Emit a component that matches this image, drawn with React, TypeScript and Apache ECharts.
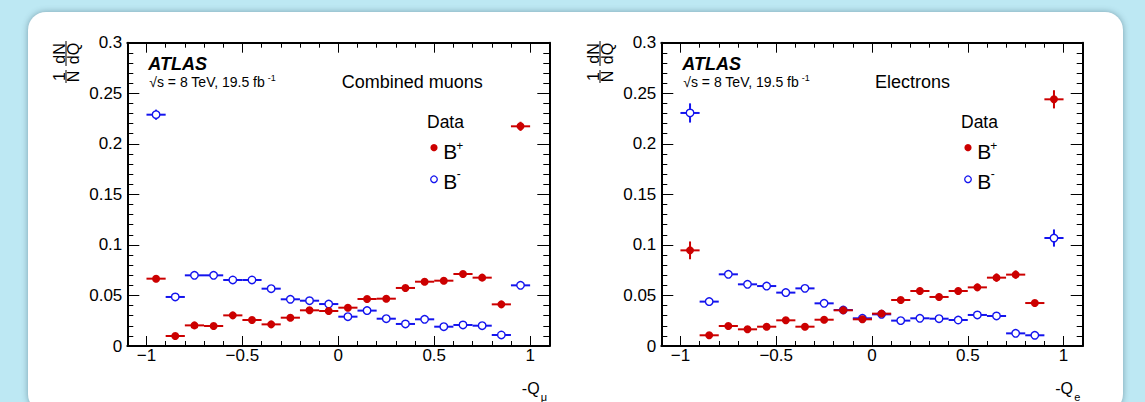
import React, { useEffect, useRef } from 'react';
import * as echarts from 'echarts';

const binCenters = [-0.95, -0.85, -0.75, -0.65, -0.55, -0.45, -0.35, -0.25, -0.15, -0.05, 0.05, 0.15, 0.25, 0.35, 0.45, 0.55, 0.65, 0.75, 0.85, 0.95];
const halfBin = 0.05;

// Combined muons
const muPlus = [0.0666, 0.0099, 0.0204, 0.0198, 0.0303, 0.0257, 0.0214, 0.028, 0.0353, 0.0346, 0.0379, 0.0465, 0.0468, 0.0574, 0.0636, 0.0646, 0.0712, 0.0676, 0.0412, 0.2173];
const muPlusErr = [0.003, 0.0015, 0.002, 0.002, 0.002, 0.002, 0.002, 0.002, 0.002, 0.002, 0.002, 0.002, 0.002, 0.002, 0.002, 0.002, 0.002, 0.002, 0.002, 0.0045];
const muMinus = [0.2288, 0.0485, 0.0699, 0.0699, 0.0653, 0.0653, 0.0567, 0.0462, 0.0448, 0.0415, 0.029, 0.035, 0.027, 0.0218, 0.0264, 0.0191, 0.0208, 0.0201, 0.0109, 0.06];
const muMinusErr = [0.005, 0.002, 0.002, 0.002, 0.002, 0.002, 0.002, 0.002, 0.002, 0.002, 0.002, 0.002, 0.002, 0.002, 0.002, 0.002, 0.002, 0.002, 0.0015, 0.003];

// Electrons
const elPlus = [0.0946, 0.0106, 0.0198, 0.0165, 0.0191, 0.0254, 0.0191, 0.026, 0.0353, 0.0264, 0.032, 0.0455, 0.0544, 0.0485, 0.0544, 0.058, 0.0676, 0.0706, 0.0425, 0.244];
const elPlusErr = [0.0088, 0.002, 0.003, 0.003, 0.003, 0.003, 0.003, 0.003, 0.003, 0.003, 0.003, 0.003, 0.0035, 0.0035, 0.0035, 0.0035, 0.004, 0.004, 0.003, 0.009];
const elMinus = [0.2305, 0.0439, 0.0709, 0.061, 0.0593, 0.0528, 0.057, 0.0422, 0.0356, 0.0274, 0.0313, 0.0251, 0.0274, 0.027, 0.0257, 0.0307, 0.0297, 0.0125, 0.0106, 0.1068];
const elMinusErr = [0.0095, 0.002, 0.003, 0.003, 0.003, 0.003, 0.003, 0.003, 0.003, 0.003, 0.003, 0.003, 0.003, 0.003, 0.003, 0.003, 0.003, 0.002, 0.002, 0.0085];

const xMajorTicks = [-1, -0.5, 0, 0.5, 1];
const xMinorTicks = [-1, -0.9, -0.8, -0.7, -0.6, -0.5, -0.4, -0.3, -0.2, -0.1, 0, 0.1, 0.2, 0.3, 0.4, 0.5, 0.6, 0.7, 0.8, 0.9, 1];

const panelLabels = ['Combined muons', 'Electrons'];
const xTitleSubs = ['μ', 'e'];

const FONT = '"Liberation Sans", Arial, Helvetica, sans-serif';
const RED = '#cc0000';
const BLUE = '#1414ee';

const GRID_TOP = 42.7;
const GRID_H = 303.3;
const GRID_LEFTS = [127.3, 661.3];
const GRID_WIDTHS = [422, 421.4];

function fmtX(v: number) {
  const r = Math.round(v * 10) / 10;
  if (r === 0) return '0';
  return (r < 0 ? '\u2212' : '') + String(Math.abs(r));
}
function fmtY(v: number) {
  const r = Math.round(v * 1000) / 1000;
  return String(r);
}

function xAxes(gridIndex: number) {
  const base = { type: 'value', gridIndex, min: -1.1, max: 1.1, splitLine: { show: false } };
  const tickStyle = { color: '#000', width: 1 };
  const lineStyle = { color: '#000', width: 2 };
  return [
    {
      ...base, position: 'bottom',
      axisLine: { show: true, onZero: false, lineStyle },
      axisTick: { show: true, inside: true, length: 10, customValues: xMajorTicks, lineStyle: tickStyle },
      axisLabel: { show: true, customValues: xMajorTicks, formatter: fmtX, margin: 1, color: '#000', fontSize: 17, fontFamily: FONT },
    },
    {
      ...base, position: 'bottom',
      axisLine: { show: false, onZero: false },
      axisTick: { show: true, inside: true, length: 5, customValues: xMinorTicks, lineStyle: tickStyle },
      axisLabel: { show: false },
    },
    {
      ...base, position: 'top',
      axisLine: { show: true, onZero: false, lineStyle },
      axisTick: { show: true, inside: true, length: 10, customValues: xMajorTicks, lineStyle: tickStyle },
      axisLabel: { show: false },
    },
    {
      ...base, position: 'top',
      axisLine: { show: false, onZero: false },
      axisTick: { show: true, inside: true, length: 5, customValues: xMinorTicks, lineStyle: tickStyle },
      axisLabel: { show: false },
    },
  ];
}

function yAxes(gridIndex: number) {
  const base = {
    type: 'value', gridIndex, min: 0, max: 0.3, interval: 0.05, splitLine: { show: false },
    axisLine: { show: true, onZero: false, lineStyle: { color: '#000', width: 2 } },
    axisTick: { show: true, inside: true, length: 12, lineStyle: { color: '#000', width: 1 } },
    minorTick: { show: true, splitNumber: 5, length: 6, lineStyle: { color: '#000', width: 1 } },
  };
  return [
    { ...base, position: 'left', axisLabel: { show: true, formatter: fmtY, margin: 5, color: '#000', fontSize: 17, fontFamily: FONT } },
    { ...base, position: 'right', axisLabel: { show: false } },
  ];
}

function errorSeries(values: number[], errs: number[], color: string, xAxisIndex: number, yAxisIndex: number, z: number) {
  return {
    type: 'custom', xAxisIndex, yAxisIndex, z, silent: true,
    data: binCenters.map((x, i) => [x, values[i], errs[i]]),
    encode: { x: 0, y: 1 },
    renderItem: (_p: any, api: any) => {
      const x = api.value(0), y = api.value(1), e = api.value(2);
      const l = api.coord([x - halfBin, y]);
      const r = api.coord([x + halfBin, y]);
      const t = api.coord([x, y + e]);
      const b = api.coord([x, y - e]);
      return {
        type: 'group',
        children: [
          { type: 'line', shape: { x1: l[0], y1: l[1], x2: r[0], y2: r[1] }, style: { stroke: color, lineWidth: 2 } },
          { type: 'line', shape: { x1: t[0], y1: t[1], x2: b[0], y2: b[1] }, style: { stroke: color, lineWidth: 2 } },
        ],
      };
    },
  };
}

function markerSeries(values: number[], filled: boolean, color: string, xAxisIndex: number, yAxisIndex: number, z: number) {
  return {
    type: 'scatter', xAxisIndex, yAxisIndex, z, silent: true,
    symbol: 'circle', symbolSize: filled ? 8 : 7.5,
    itemStyle: filled ? { color, opacity: 1 } : { color: '#fff', borderColor: color, borderWidth: 1.4, opacity: 1 },
    data: binCenters.map((x, i) => [x, values[i]]),
  };
}

function txt(text: string, x: number, y: number, size: number, extra: any = {}) {
  return {
    type: 'text', x, y, silent: true,
    style: {
      text, fill: '#000', fontSize: size, fontFamily: FONT,
      textAlign: extra.align || 'left', align: extra.align || 'left',
      textVerticalAlign: extra.valign || 'middle', verticalAlign: extra.valign || 'middle',
      fontWeight: extra.weight || 'normal', fontStyle: extra.style || 'normal',
    },
  };
}

function panelGraphics(p: number) {
  const L = GRID_LEFTS[p];
  const R = L + GRID_WIDTHS[p];
  const els: any[] = [];
  els.push(txt('ATLAS', L + 21, 63.5, 18, { weight: 'bold', style: 'italic' }));
  els.push(txt('\u221As = 8 TeV, 19.5 fb', L + 22, 82, 14));
  els.push(txt('-1', L + 140.5, 77.5, 9));
  els.push(txt(panelLabels[p], p === 0 ? 341.7 : 875, 82, 18));
  els.push(txt('Data', L + 299.7, 121.5, 17.5));
  els.push({ type: 'circle', silent: true, shape: { cx: L + 306.7, cy: 147.7, r: 3.6 }, style: { fill: RED } });
  els.push(txt('B', L + 316, 151, 21));
  els.push(txt('+', L + 329, 146, 12));
  els.push({ type: 'circle', silent: true, shape: { cx: L + 306.7, cy: 179.3, r: 3.3 }, style: { fill: '#fff', stroke: BLUE, lineWidth: 1.3 } });
  els.push(txt('B', L + 316, 181, 21));
  els.push(txt('-', L + 329.5, 174, 12));
  // x-axis title
  els.push(txt('-Q', R - 27.5, 388, 16));
  els.push(txt(xTitleSubs[p], R - 8.5, 396.5, 11));
  // y-axis title (rotated fraction)
  const x0 = L - 61.3;
  const y0 = 83;
  els.push({
    type: 'group', x: x0, y: y0, rotation: Math.PI / 2, silent: true,
    children: [
      txt('1', 6.5, -6.5, 16, { align: 'center' }),
      { type: 'line', shape: { x1: 0, y1: 0, x2: 13, y2: 0 }, style: { stroke: '#000', lineWidth: 1 } },
      txt('N', 6.5, 7.5, 16, { align: 'center' }),
      txt('dN', 29.5, -6.5, 16, { align: 'center' }),
      { type: 'line', shape: { x1: 17, y1: 0, x2: 42, y2: 0 }, style: { stroke: '#000', lineWidth: 1 } },
      txt('dQ', 29.5, 7.5, 16, { align: 'center' }),
    ],
  });
  return els;
}

export default function App() {
  const ref = useRef<HTMLDivElement>(null);
  useEffect(() => {
    if (!ref.current) return;
    const chart = echarts.init(ref.current, undefined, { renderer: 'svg' });
    const option: any = {
      animation: false,
      grid: GRID_LEFTS.map((l, i) => ({ left: l, top: GRID_TOP, width: GRID_WIDTHS[i], height: GRID_H, containLabel: false })),
      xAxis: [...xAxes(0), ...xAxes(1)],
      yAxis: [...yAxes(0), ...yAxes(1)],
      series: [
        errorSeries(muMinus, muMinusErr, BLUE, 0, 0, 2),
        markerSeries(muMinus, false, BLUE, 0, 0, 3),
        errorSeries(muPlus, muPlusErr, RED, 0, 0, 4),
        markerSeries(muPlus, true, RED, 0, 0, 5),
        errorSeries(elMinus, elMinusErr, BLUE, 4, 2, 2),
        markerSeries(elMinus, false, BLUE, 4, 2, 3),
        errorSeries(elPlus, elPlusErr, RED, 4, 2, 4),
        markerSeries(elPlus, true, RED, 4, 2, 5),
      ],
      graphic: [...panelGraphics(0), ...panelGraphics(1)],
    };
    chart.setOption(option);
    return () => chart.dispose();
  }, []);

  return (
    <div style={{ position: 'fixed', left: 0, top: 0, width: 1145, height: 402, background: '#bde8f3', overflow: 'hidden' }}>
      <div style={{ position: 'absolute', left: 28, top: 12, width: 1095, height: 400, background: '#fff', borderRadius: 18, boxShadow: '0 0 6px rgba(40,70,90,0.45)' }} />
      <div ref={ref} style={{ position: 'absolute', left: 0, top: 0, width: 1145, height: 402 }} />
    </div>
  );
}
